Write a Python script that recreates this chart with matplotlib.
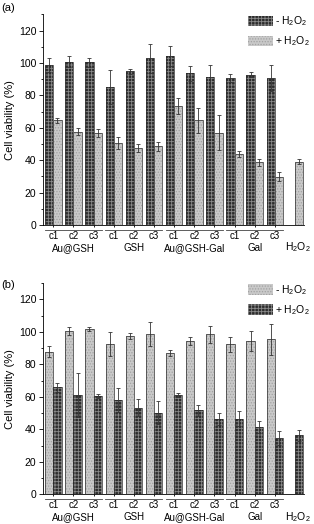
"""Cell viability bar chart, two panels (a) and (b)."""
import matplotlib
matplotlib.use("Agg")
import matplotlib.pyplot as plt
from matplotlib.patches import Patch
import matplotlib.transforms as mtransforms
import numpy as np

plt.rcParams['font.family'] = ['Liberation Sans', 'DejaVu Sans']
plt.rcParams['mathtext.fontset'] = 'custom'
plt.rcParams['mathtext.rm'] = 'Liberation Sans'
plt.rcParams['mathtext.it'] = 'Liberation Sans:italic'
plt.rcParams['hatch.linewidth'] = 0.6

# 每组 c1/c2/c3 浓度，最后一个是单独的 H2O2
conc_labels = ['c1', 'c2', 'c3'] * 4
group_names = ['Au@GSH', 'GSH', 'Au@GSH-Gal', 'Gal']
h2o2_label = 'H$_2$O$_2$'

# panel (a)
a_minus = [98.8, 100.9, 100.4, 85.3, 94.8, 102.8, 104.4, 93.8, 91.4, 90.7, 92.9, 90.8]
a_minus_err = [4.2, 3.6, 2.8, 10.6, 1.8, 9.0, 6.2, 4.6, 7.2, 2.3, 1.6, 8.2]
a_plus = [64.6, 57.6, 56.7, 50.8, 47.3, 48.5, 73.5, 64.7, 57.1, 43.7, 38.8, 29.9, 39.2]
a_plus_err = [1.7, 2.3, 2.3, 3.6, 2.5, 2.9, 5.1, 7.6, 10.6, 2.0, 2.2, 3.0, 1.3]

# panel (b)
b_minus = [87.8, 100.6, 101.6, 92.2, 97.4, 98.4, 87.0, 94.2, 98.5, 92.2, 94.2, 95.4]
b_minus_err = [3.6, 2.6, 1.1, 7.4, 2.1, 7.4, 2.0, 2.3, 5.2, 4.6, 6.3, 9.6]
b_plus = [65.8, 61.1, 60.6, 58.1, 53.3, 50.1, 61.0, 51.6, 46.4, 46.4, 41.5, 34.8, 36.4]
b_plus_err = [2.6, 13.8, 1.4, 7.3, 5.4, 7.1, 1.4, 3.4, 3.5, 4.6, 3.9, 4.2, 3.4]

DARK_FACE, DARK_HATCH = '#2c2c2c', '#8a8a8a'
LIGHT_FACE, LIGHT_HATCH = '#c9c9c9', '#a2a2a2'
BAR_W = 0.41


def styled_bars(ax, x, vals, face, hcol, hatch):
    ax.bar(x, vals, BAR_W, color=face, edgecolor=hcol, hatch=hatch, linewidth=0)
    ax.bar(x, vals, BAR_W, fill=False, edgecolor='#2a2a2a', linewidth=0.5)


def draw_panel(ax, minus, minus_err, plus, plus_err, minus_dark):
    x = np.arange(len(plus))
    xm = x[:len(minus)] - BAR_W / 2
    xp = x + BAR_W / 2
    dark = (DARK_FACE, DARK_HATCH, '+++++')
    light = (LIGHT_FACE, LIGHT_HATCH, '......')
    m_style, p_style = (dark, light) if minus_dark else (light, dark)
    styled_bars(ax, xm, minus, *m_style)
    styled_bars(ax, xp, plus, *p_style)
    for xx, vv, ee in ((xm, minus, minus_err), (xp, plus, plus_err)):
        ax.errorbar(xx, vv, yerr=ee, fmt='none', ecolor='#333333',
                    elinewidth=0.6, capsize=1.6, capthick=0.6)

    ax.set_xlim(-0.53, 12.45)
    ax.set_ylim(0, 130)
    ax.set_yticks(range(0, 121, 20))
    ax.set_yticks(range(10, 131, 20), minor=True)
    ax.tick_params(axis='y', which='major', length=3, width=0.6, labelsize=7.5, pad=1.5)
    ax.tick_params(axis='y', which='minor', length=1.8, width=0.6)
    ax.set_xticks(x[:12])
    ax.set_xticklabels(conc_labels, fontsize=7)
    ax.tick_params(axis='x', length=1.5, width=0.6, pad=2.5)
    for s in ('top', 'right'):
        ax.spines[s].set_visible(False)
    for s in ('left', 'bottom'):
        ax.spines[s].set_linewidth(0.6)

    trans = mtransforms.blended_transform_factory(ax.transData, ax.transAxes)
    for i, name in enumerate(group_names):
        ax.plot([3 * i - 0.42, 3 * i + 2 + 0.42], [-0.024, -0.024], color='#444444',
                lw=0.6, transform=trans, clip_on=False)
        ax.text(3 * i + 1, -0.108, name, transform=trans, ha='center', va='center', fontsize=7)
    ax.text(12.15, -0.106, h2o2_label, transform=trans, ha='center', va='center', fontsize=7.5)

    ax.set_ylabel('Cell viability (%)', fontsize=8)
    ax.yaxis.set_label_coords(-0.105, 0.5)

    handles = [Patch(facecolor=m_style[0], edgecolor=m_style[1], hatch=m_style[2], lw=0),
               Patch(facecolor=p_style[0], edgecolor=p_style[1], hatch=p_style[2], lw=0)]
    ax.legend(handles, ['- ' + h2o2_label, '+ ' + h2o2_label], loc='upper left',
              bbox_to_anchor=(0.786, 1.0), frameon=False, fontsize=7.5,
              handlelength=2.4, handleheight=1.2, handletextpad=0.2,
              labelspacing=0.6, borderpad=0, borderaxespad=0)


fig = plt.figure(figsize=(3.14, 5.24), dpi=100)
ax_a = fig.add_axes([0.136, 0.5706, 0.832, 0.4019])
ax_b = fig.add_axes([0.136, 0.0567, 0.832, 0.4032])
draw_panel(ax_a, a_minus, a_minus_err, a_plus, a_plus_err, True)
draw_panel(ax_b, b_minus, b_minus_err, b_plus, b_plus_err, False)
fig.text(0.004, 1 - 8 / 524, '(a)', fontsize=8, va='center')
fig.text(0.004, 1 - 285 / 524, '(b)', fontsize=8, va='center')

fig.savefig('out.png', dpi=100)
